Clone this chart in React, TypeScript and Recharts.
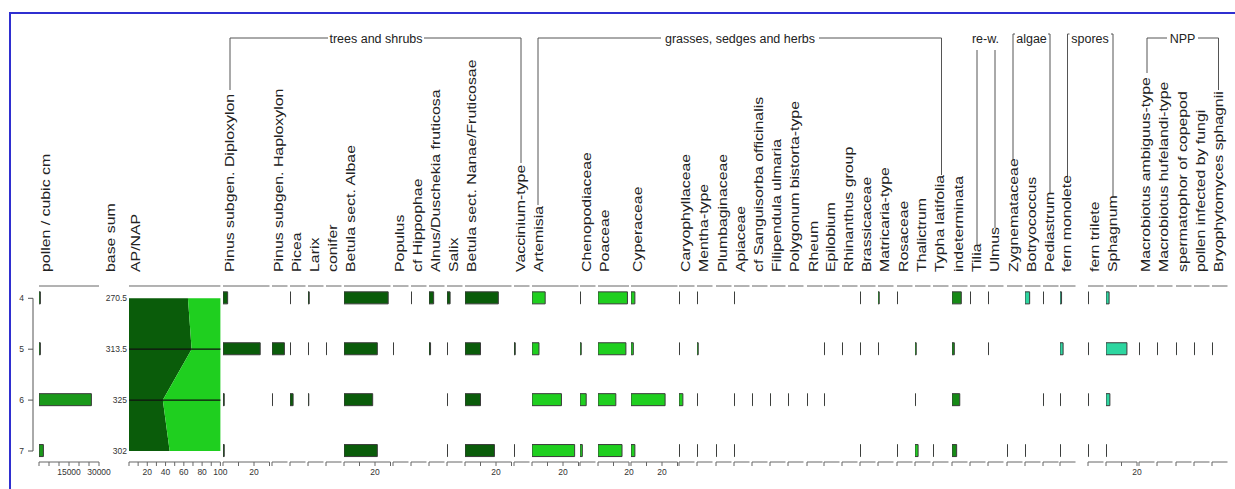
import React from 'react';
import { BarChart, Bar, AreaChart, Area, ComposedChart, Line, XAxis, YAxis, ReferenceLine } from 'recharts';

// ---- data (percent of base sum unless noted) ----
const samples = [4, 5, 6, 7];
const baseSums = [270.5, 313.5, 325, 302];
const pollenPerCc = [700, 700, 26200, 2200];
const apPercent = [64.5, 68.5, 37, 44.5];

const treeTaxa = [
  'Pinus subgen. Diploxylon', 'Pinus subgen. Haploxylon', 'Picea', 'Larix', 'conifer',
  'Betula sect. Albae', 'Populus', 'cf Hippophae', 'Alnus/Duschekia fruticosa', 'Salix',
  'Betula sect. Nanae/Fruticosae', 'Vaccinium-type',
];
const treeValues = [
  [3, 24, 0.8, 0.8], [null, 8, 0.3, null], [0.3, 0.3, 2, null], [0.8, 0.3, 0.5, null],
  [null, 0.3, null, null], [28.5, 21.5, 18.5, 21.5], [null, 0.3, null, null], [0.3, null, null, null],
  [3, 1, null, null], [2, 0.3, 0.3, 0.3], [21.5, 10, 10, 19], [null, 0.8, null, 0.3],
];

const herbTaxa = [
  'Artemisia', 'Chenopodiaceae', 'Poaceae', 'Cyperaceae', 'Caryophyllaceae', 'Mentha-type',
  'Plumbaginaceae', 'Apiaceae', 'cf Sanguisorba officinalis', 'Filipendula ulmaria',
  'Polygonum bistorta-type', 'Rheum', 'Epilobium', 'Rhinanthus group', 'Brassicaceae',
  'Matricaria-type', 'Rosaceae', 'Thalictrum', 'Typha latifolia',
];
const herbValues = [
  [8.5, 4.5, 19, 27.5], [0.3, 0.8, 4, 1.5], [19, 18, 11.5, 15.5], [2.5, 1.5, 22, 2.5],
  [0.3, 0.3, 2.5, 0.3], [0.3, 0.8, 0.3, 0.3], [null, null, null, 0.3], [0.3, null, 0.3, 0.3],
  [null, null, 0.3, null], [null, null, 0.3, null], [null, null, 0.3, null], [null, null, 0.3, null],
  [null, 0.3, 0.3, null], [null, 0.3, null, null], [0.3, 0.3, null, 0.3], [0.8, 0.3, null, null],
  [0.3, null, null, 0.3], [null, 0.8, 0.3, 2], [null, null, null, 0.3],
];

const indetTaxa = ['indeterminata'];
const indetValues = [[6, 1.5, 5, 3]];

const rewTaxa = ['Tilia', 'Ulmus'];
const rewValues = [[0.3, null, null, null], [0.3, 0.3, null, null]];

const algaeTaxa = ['Zygnemataceae', 'Botryococcus', 'Pediastrum'];
const algaeValues = [[null, null, null, 0.3], [3, null, null, 0.3], [0.3, null, 0.3, null]];

const sporeTaxa = ['fern monolete', 'fern trilete', 'Sphagnum'];
const sporeValues = [[1, 2, 0.3, 0.3], [0.3, 0.3, 0.3, 0.3], [2, 13.5, 2.5, 0.3]];

const nppTaxa = [
  'Macrobiotus ambiguus-type', 'Macrobiotus hufelandi-type', 'spermatophor of copepod',
  'pollen infected by fungi', 'Bryophytomyces sphagnii',
];
const nppValues = [[null, 0.3, null, null], [null, 0.3, null, null], [null, 0.3, null, null], [null, 0.3, null, null], [null, 0.3, null, null]];

// full scale of the wider percentage columns (others are 10 %)
const fullScale: Record<string, number> = {
  'Pinus subgen. Diploxylon': 30,
  'Betula sect. Albae': 30,
  'Betula sect. Nanae/Fruticosae': 30,
  Artemisia: 30,
  Poaceae: 20,
  Cyperaceae: 30,
  Sphagnum: 20,
};

// ---- layout ----
const W = 1235;
const H = 489;
const AXIS_TOP = 286;
const AXIS_BOTTOM = 462;
const TOP_AXIS_H = 6;
const BOTTOM_AXIS_H = 20;
const PAD = 14;
const PX_PER_PCT = 1.55;
const ROW_DOMAIN: [number, number] = [3.758, 7.216];
const TITLE_Y = 272;
const TITLE_STRETCH = 1.22;

const DARK = '#0a5c0a';
const LIGHT = '#1fcf1f';
const MID = '#168a16';
const POLLEN = '#1a991a';
const TEAL = '#2dd6a0';
const AXIS_COLOR = '#666';
const BAR_STROKE = '#3b3b3b';

// left edge of each taxon column, in drawing order
const columnLeft = [
  222.7, 271.7, 289.5, 307.5, 326, 343.5, 392.5, 410.5, 428.5, 447, 465, 513.5,
  532, 580, 598, 630.5, 679, 697, 715.5, 733.5, 752, 770, 788, 806.5, 823.5, 842, 860, 878, 896.5, 915, 933,
  951.5,
  970, 988,
  1006.5, 1024.5, 1042.5,
  1060, 1088, 1106,
  1139, 1157, 1175.5, 1193.5, 1212,
];

const groups = [
  { taxa: treeTaxa, values: treeValues, fill: DARK },
  { taxa: herbTaxa, values: herbValues, fill: LIGHT },
  { taxa: indetTaxa, values: indetValues, fill: MID },
  { taxa: rewTaxa, values: rewValues, fill: DARK },
  { taxa: algaeTaxa, values: algaeValues, fill: TEAL },
  { taxa: sporeTaxa, values: sporeValues, fill: TEAL },
  { taxa: nppTaxa, values: nppValues, fill: TEAL },
];

const columns = groups.flatMap((g) => g.taxa.map((name, i) => ({ name, values: g.values[i], fill: g.fill })))
  .map((c, i) => ({ ...c, left: columnLeft[i], max: fullScale[c.name] || 10 }));

const brackets = [
  { label: 'trees and shrubs', span: [328, 424], left: 230, right: 521, leftEnd: 90, rightEnd: 163, kind: 'bar' },
  { label: 'grasses, sedges and herbs', span: [661, 819], left: 538, right: 941.5, leftEnd: 205, rightEnd: 175, kind: 'bar' },
  { label: 're-w.', span: [972, 999], left: 977, right: 995, leftEnd: 245, rightEnd: 228, kind: 'open' },
  { label: 'algae', span: [1016, 1047], left: 1013, right: 1050, leftEnd: 160, rightEnd: 193, kind: 'hook' },
  { label: 'spores', span: [1071, 1109], left: 1067.5, right: 1113, leftEnd: 177, rightEnd: 197, kind: 'hook' },
  { label: 'NPP', span: [1167, 1198], left: 1147, right: 1218.5, leftEnd: 73, rightEnd: 90, kind: 'bar' },
];

const tickStyle = { fontSize: 8.5, fill: '#333' };

function stepTicks(max: number, step: number) {
  const out: number[] = [];
  for (let v = 0; v <= max + 1e-9; v += step) out.push(v);
  return out;
}

function Column({ left, max, width, ticks, labels, fill, values }: any) {
  const data = samples.map((s, i) => ({ sample: s, value: values[i] }));
  const fmt = (v: number) => (labels.includes(v) ? String(v) : '');
  return (
    <div style={{ position: 'absolute', left: left - PAD, top: 0 }}>
      <BarChart
        width={width + 2 * PAD}
        height={H}
        layout="vertical"
        data={data}
        margin={{ top: AXIS_TOP - TOP_AXIS_H, right: PAD, bottom: H - AXIS_BOTTOM - BOTTOM_AXIS_H, left: PAD }}
      >
        <XAxis xAxisId="top" orientation="top" type="number" domain={[0, max]} ticks={ticks} interval={0}
          tick={false} tickSize={4} height={TOP_AXIS_H} stroke={AXIS_COLOR} allowDataOverflow />
        <XAxis xAxisId="bottom" orientation="bottom" type="number" domain={[0, max]} ticks={ticks} interval={0}
          tickFormatter={fmt} tickSize={4} tickMargin={3} height={BOTTOM_AXIS_H} stroke={AXIS_COLOR}
          tick={tickStyle} allowDataOverflow />
        <YAxis type="number" dataKey="sample" domain={ROW_DOMAIN} ticks={samples} hide allowDataOverflow />
        <Bar xAxisId="bottom" dataKey="value" fill={fill} stroke={BAR_STROKE} strokeWidth={1} barSize={12}
          isAnimationActive={false} />
      </BarChart>
    </div>
  );
}

function ApNapColumn() {
  const left = 129.3;
  const width = 91.4;
  const yw = 40;
  const data = samples.map((s, i) => ({ sample: s, ap: apPercent[i], nap: 100 - apPercent[i] }));
  const ticks = stepTicks(100, 10);
  return (
    <div style={{ position: 'absolute', left: left - yw, top: 0 }}>
      <AreaChart
        width={yw + width + PAD}
        height={H}
        layout="vertical"
        data={data}
        margin={{ top: AXIS_TOP - TOP_AXIS_H, right: PAD, bottom: H - AXIS_BOTTOM - BOTTOM_AXIS_H, left: 0 }}
      >
        <XAxis xAxisId="top" orientation="top" type="number" domain={[0, 100]} ticks={ticks} interval={0}
          tick={false} tickSize={4} height={TOP_AXIS_H} stroke={AXIS_COLOR} />
        <XAxis xAxisId="bottom" orientation="bottom" type="number" domain={[0, 100]} ticks={ticks} interval={0}
          tickFormatter={(v: number) => (v >= 20 && v % 20 === 0 ? String(v) : '')} tickSize={4} tickMargin={3}
          height={BOTTOM_AXIS_H} stroke={AXIS_COLOR} tick={tickStyle} />
        <YAxis type="number" dataKey="sample" domain={ROW_DOMAIN} ticks={samples} interval={0} width={yw}
          axisLine={false} tickLine={false} tickSize={0} tickMargin={2} tick={tickStyle} allowDataOverflow
          tickFormatter={(v: number) => String(baseSums[samples.indexOf(v)])} />
        <Area xAxisId="bottom" type="linear" dataKey="ap" stackId="ap" fill={DARK} fillOpacity={1} stroke="none"
          isAnimationActive={false} />
        <Area xAxisId="bottom" type="linear" dataKey="nap" stackId="ap" fill={LIGHT} fillOpacity={1} stroke="none"
          isAnimationActive={false} />
        {samples.slice(1, -1).map((s) => (
          <ReferenceLine key={s} xAxisId="bottom" y={s} stroke="#111" strokeWidth={1.3} />
        ))}
      </AreaChart>
    </div>
  );
}

function SampleAxis() {
  const data = samples.map((s) => ({ sample: s, zero: 0 }));
  return (
    <div style={{ position: 'absolute', left: 0, top: 0 }}>
      <ComposedChart width={36} height={H} layout="vertical" data={data}
        margin={{ top: 298.3, right: 0, bottom: H - 451, left: 0 }}>
        <XAxis type="number" domain={[0, 1]} hide />
        <YAxis type="number" dataKey="sample" domain={[4, 7]} ticks={samples} interval={0} width={33}
          tickSize={5} tickMargin={4} stroke="#555" tick={tickStyle} />
        <Line dataKey="zero" stroke="none" dot={false} isAnimationActive={false} />
      </ComposedChart>
    </div>
  );
}

function Title({ x, text }: { x: number; text: string }) {
  return (
    <text transform={`translate(${x},${TITLE_Y}) rotate(-90) scale(${TITLE_STRETCH},1)`} fontSize={13} fill="#222">
      {text}
    </text>
  );
}

function Header() {
  const y = 38;
  return (
    <svg width={W} height={H} style={{ position: 'absolute', left: 0, top: 0, pointerEvents: 'none' }}>
      <g stroke="#555" strokeWidth={1} fill="none">
        {brackets.map((b) => {
          const top = b.kind === 'bar' ? y : b.kind === 'hook' ? 34 : 50;
          return (
            <g key={b.label}>
              {b.kind === 'bar' && <line x1={b.left} y1={y} x2={b.span[0]} y2={y} />}
              {b.kind === 'bar' && <line x1={b.span[1]} y1={y} x2={b.right} y2={y} />}
              {b.kind === 'hook' && <line x1={b.left} y1={top} x2={b.left + 2} y2={top} />}
              {b.kind === 'hook' && <line x1={b.right - 2} y1={top} x2={b.right} y2={top} />}
              <line x1={b.left} y1={top} x2={b.left} y2={b.leftEnd} />
              <line x1={b.right} y1={top} x2={b.right} y2={b.rightEnd} />
            </g>
          );
        })}
      </g>
      {brackets.map((b) => (
        <text key={b.label} x={(b.span[0] + b.span[1]) / 2} y={y + 4.5} textAnchor="middle" fontSize={12.5} fill="#222">
          {b.label}
        </text>
      ))}
      <Title x={50} text="pollen / cubic cm" />
      <Title x={115} text="base sum" />
      <Title x={140.3} text="AP/NAP" />
      {columns.map((c) => (
        <Title key={c.name} x={c.left + 11} text={c.name} />
      ))}
    </svg>
  );
}

export default function App() {
  return (
    <div
      style={{
        position: 'fixed', left: 0, top: 0, width: W, height: H, overflow: 'hidden', background: '#fff',
        fontFamily: '"Liberation Sans", Arial, sans-serif',
      }}
    >
      <div style={{ position: 'absolute', left: 9, top: 12, width: W, height: H, borderLeft: '2px solid #2f2fd0', borderTop: '2px solid #2f2fd0' }} />
      <SampleAxis />
      <Column left={39.3} max={30000} width={60} ticks={stepTicks(30000, 5000)} labels={[15000, 30000]}
        fill={POLLEN} values={pollenPerCc} />
      <ApNapColumn />
      {columns.map((c) => (
        <Column key={c.name} left={c.left} max={c.max} width={c.max * PX_PER_PCT}
          ticks={c.max > 10 ? stepTicks(c.max, 10) : [0]} labels={c.max > 10 ? [20] : []}
          fill={c.fill} values={c.values} />
      ))}
      <Header />
    </div>
  );
}
